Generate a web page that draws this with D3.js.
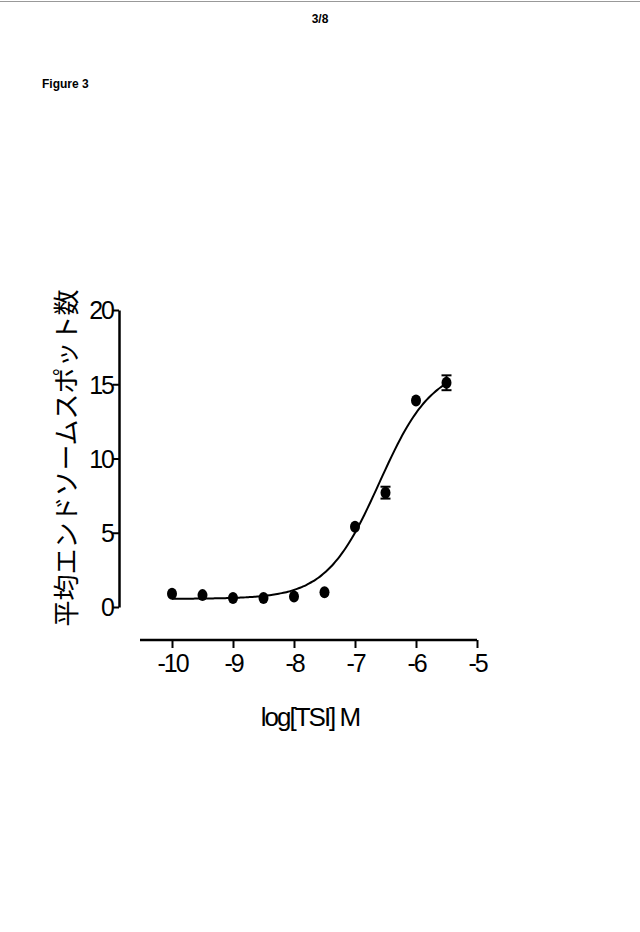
<!DOCTYPE html>
<html><head><meta charset="utf-8">
<script src="https://cdn.jsdelivr.net/npm/d3@7"></script>
<style>body{margin:0;background:#fff}</style>
</head><body><svg id="c" width="640" height="932"></svg>
<script>
// measured points
const logConc = [-10, -9.5, -9, -8.5, -8, -7.5, -7, -6.5, -6, -5.5];
const meanSpots = [0.9, 0.8, 0.6, 0.6, 0.7, 1.0, 5.4, 7.7, 13.9, 15.1];
const errSpots = [0, 0, 0, 0, 0, 0, 0, 0.4, 0, 0.5];
const xTicks = [-10, -9, -8, -7, -6, -5];
const yTicks = [0, 5, 10, 15, 20];
// fitted curve parameters (bottom, top, logEC50, hill)
const fitParams = [0.55, 16.2, -6.6, 1.0];

const svg = d3.select("#c");
const font = "Liberation Sans, Arial, sans-serif";

svg.append("line").attr("x1", 0).attr("x2", 640).attr("y1", 1.5).attr("y2", 1.5)
  .attr("stroke", "#999").attr("stroke-width", 1);
svg.append("text").attr("x", 320).attr("y", 23).attr("text-anchor", "middle")
  .attr("font-family", font).attr("font-weight", "bold").attr("font-size", 12).text("3/8");
svg.append("text").attr("x", 42).attr("y", 88)
  .attr("font-family", font).attr("font-weight", "bold").attr("font-size", 12).text("Figure 3");

var x = d3.scaleLinear().domain([-10, -5]).range([172, 477]);
var y = d3.scaleLinear().domain([0, 20]).range([607, 310]);
var fmt = d => String(d);

// y axis
var ya = svg.append("g").attr("transform", "translate(119,0)")
  .call(d3.axisLeft(y).tickValues(yTicks).tickFormat(fmt).tickSize(6).tickSizeOuter(0));
ya.select(".domain").attr("stroke-width", 2.5);
ya.selectAll(".tick line").attr("stroke-width", 2);
ya.selectAll("text").attr("font-family", font).attr("font-size", 25)
  .attr("letter-spacing", -2).attr("x", -6).attr("dy", "0.35em");

// x axis (offset below)
var xa = svg.append("g").attr("transform", "translate(0,640)")
  .call(d3.axisBottom(x).tickValues(xTicks).tickFormat(fmt).tickSize(8).tickSizeOuter(0));
xa.select(".domain").attr("d", "M140,0H477").attr("stroke-width", 2.5);
xa.selectAll(".tick line").attr("stroke-width", 2);
xa.selectAll("text").attr("font-family", font).attr("font-size", 25)
  .attr("letter-spacing", -2).attr("y", 14).attr("dy", "0.71em");

svg.append("text").attr("x", 310).attr("y", 726).attr("text-anchor", "middle")
  .attr("font-family", font).attr("font-size", 26).attr("letter-spacing", -2)
  .text("log[TSI] M");

svg.append("text").attr("transform", "translate(76,458) rotate(-90)")
  .attr("text-anchor", "middle").attr("font-family", "Noto Sans CJK JP")
  .attr("font-size", 26).text("平均エンドソームスポット数");

// fitted curve
function fit(v){
  return fitParams[0] + (fitParams[1] - fitParams[0]) / (1 + Math.pow(10, (fitParams[2] - v) * fitParams[3]));
}
var curveX = d3.range(-10, -5.49, 0.05);
svg.append("path").datum(curveX)
  .attr("d", d3.line().x(d => x(d)).y(d => y(fit(d))).curve(d3.curveMonotoneX))
  .attr("fill", "none").attr("stroke", "#000").attr("stroke-width", 2);

// error bars
logConc.forEach(function(c, i){
  if (!errSpots[i]) return;
  var g = svg.append("g").attr("stroke", "#000").attr("stroke-width", 2);
  g.append("line").attr("x1", x(c)).attr("x2", x(c))
    .attr("y1", y(meanSpots[i] - errSpots[i])).attr("y2", y(meanSpots[i] + errSpots[i]));
  [-1, 1].forEach(s => g.append("line").attr("x1", x(c) - 5).attr("x2", x(c) + 5)
    .attr("y1", y(meanSpots[i] + s * errSpots[i])).attr("y2", y(meanSpots[i] + s * errSpots[i])));
});

svg.append("g").selectAll("ellipse").data(logConc).enter().append("ellipse")
  .attr("cx", d => x(d)).attr("cy", (d, i) => y(meanSpots[i]))
  .attr("rx", 5).attr("ry", 6).attr("fill", "#000");
</script></body></html>
